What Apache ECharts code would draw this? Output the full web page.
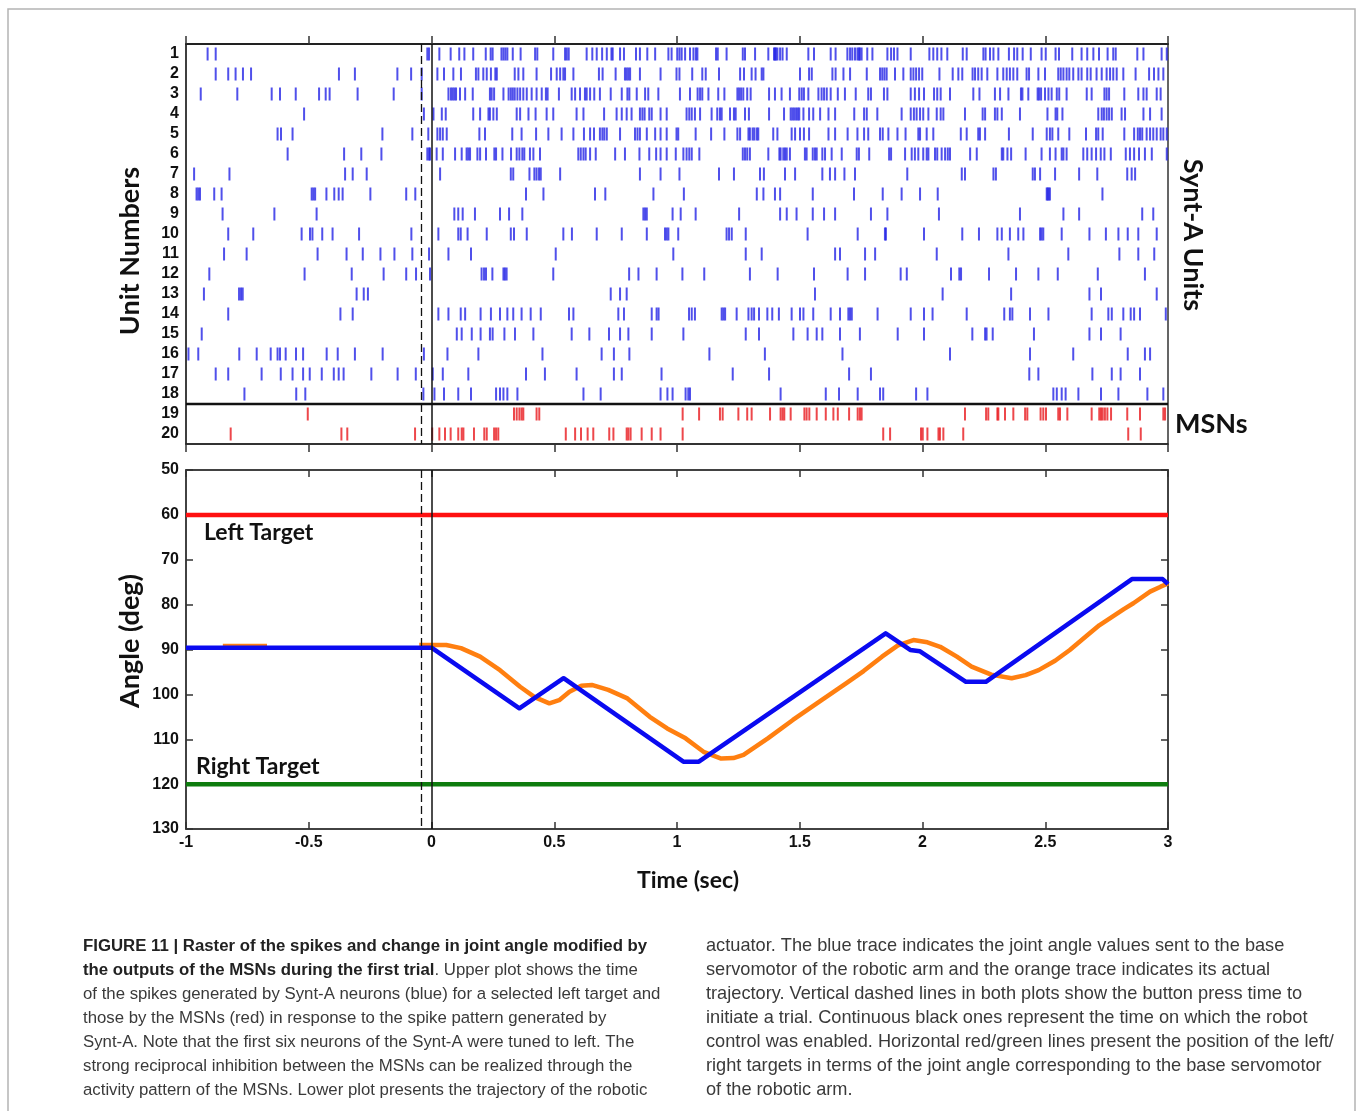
<!DOCTYPE html>
<html>
<head>
<meta charset="utf-8">
<script src="https://cdn.jsdelivr.net/npm/echarts@6/dist/echarts.min.js"></script>
<style>
html, body { margin: 0; padding: 0; background: #fff; }
#chart { width: 1358px; height: 1111px; }
</style>
</head>
<body>
<div id="chart"></div>
<script>
// spike times (sec) for each unit
const unit01 = [-0.912, -0.879, -0.017, -0.010, 0.032, 0.078, 0.113, 0.134, 0.170, 0.221, 0.241, 0.249, 0.285, 0.293, 0.301, 0.309, 0.331, 0.363, 0.422, 0.431, 0.496, 0.544, 0.551, 0.559, 0.632, 0.655, 0.673, 0.695, 0.714, 0.733, 0.738, 0.768, 0.784, 0.833, 0.849, 0.879, 0.911, 0.965, 0.978, 1.001, 1.010, 1.019, 1.033, 1.053, 1.067, 1.077, 1.083, 1.159, 1.166, 1.202, 1.268, 1.277, 1.318, 1.372, 1.395, 1.399, 1.403, 1.409, 1.420, 1.430, 1.447, 1.535, 1.558, 1.626, 1.646, 1.694, 1.705, 1.714, 1.725, 1.735, 1.741, 1.745, 1.752, 1.775, 1.796, 1.857, 1.872, 1.884, 1.898, 1.952, 2.028, 2.044, 2.060, 2.077, 2.101, 2.164, 2.180, 2.248, 2.257, 2.275, 2.289, 2.309, 2.352, 2.373, 2.386, 2.408, 2.441, 2.485, 2.502, 2.542, 2.556, 2.610, 2.648, 2.671, 2.696, 2.719, 2.754, 2.777, 2.787, 2.875, 2.900, 2.974, 2.995];
const unit02 = [-0.879, -0.828, -0.798, -0.768, -0.735, -0.377, -0.312, -0.139, -0.083, -0.040, 0.024, 0.051, 0.089, 0.120, 0.181, 0.191, 0.211, 0.225, 0.242, 0.260, 0.266, 0.339, 0.354, 0.374, 0.428, 0.487, 0.510, 0.524, 0.537, 0.544, 0.578, 0.682, 0.697, 0.750, 0.788, 0.795, 0.802, 0.809, 0.849, 0.933, 0.998, 1.010, 1.062, 1.103, 1.117, 1.171, 1.257, 1.273, 1.304, 1.320, 1.345, 1.352, 1.501, 1.538, 1.549, 1.633, 1.646, 1.678, 1.705, 1.773, 1.827, 1.836, 1.845, 1.854, 1.888, 1.922, 1.952, 1.963, 1.974, 1.986, 1.999, 2.069, 2.123, 2.146, 2.162, 2.204, 2.214, 2.227, 2.241, 2.264, 2.305, 2.329, 2.343, 2.356, 2.370, 2.386, 2.424, 2.434, 2.472, 2.499, 2.553, 2.563, 2.574, 2.587, 2.598, 2.614, 2.635, 2.648, 2.671, 2.685, 2.709, 2.730, 2.750, 2.764, 2.777, 2.791, 2.818, 2.868, 2.923, 2.943, 2.961, 2.981];
const unit03 = [-0.940, -0.791, -0.651, -0.617, -0.553, -0.458, -0.431, -0.415, -0.301, -0.154, -0.040, 0.069, 0.079, 0.086, 0.093, 0.100, 0.116, 0.137, 0.168, 0.238, 0.245, 0.255, 0.293, 0.314, 0.323, 0.331, 0.339, 0.350, 0.361, 0.374, 0.388, 0.408, 0.428, 0.449, 0.466, 0.473, 0.519, 0.571, 0.585, 0.605, 0.625, 0.632, 0.646, 0.663, 0.686, 0.730, 0.775, 0.798, 0.806, 0.836, 0.870, 0.883, 0.924, 1.012, 1.053, 1.084, 1.094, 1.103, 1.128, 1.168, 1.193, 1.246, 1.253, 1.261, 1.270, 1.286, 1.300, 1.375, 1.399, 1.426, 1.460, 1.498, 1.508, 1.517, 1.535, 1.576, 1.589, 1.599, 1.610, 1.626, 1.655, 1.684, 1.728, 1.779, 1.790, 1.843, 1.857, 1.952, 1.969, 1.986, 2.006, 2.047, 2.060, 2.074, 2.112, 2.207, 2.232, 2.295, 2.316, 2.350, 2.401, 2.407, 2.431, 2.469, 2.475, 2.483, 2.499, 2.513, 2.526, 2.547, 2.557, 2.587, 2.669, 2.689, 2.741, 2.750, 2.760, 2.822, 2.879, 2.900, 2.913, 2.954, 2.970];
const unit04 = [-0.519, -0.031, 0.008, 0.042, 0.058, 0.170, 0.198, 0.232, 0.238, 0.252, 0.266, 0.347, 0.361, 0.395, 0.424, 0.469, 0.496, 0.591, 0.619, 0.703, 0.754, 0.775, 0.795, 0.815, 0.849, 0.859, 0.868, 0.887, 0.897, 0.933, 0.958, 1.039, 1.050, 1.060, 1.073, 1.094, 1.141, 1.164, 1.175, 1.182, 1.216, 1.232, 1.239, 1.277, 1.293, 1.375, 1.436, 1.463, 1.470, 1.477, 1.485, 1.492, 1.498, 1.515, 1.538, 1.555, 1.583, 1.617, 1.644, 1.722, 1.762, 1.773, 1.816, 1.915, 1.952, 1.965, 1.976, 1.990, 2.003, 2.024, 2.058, 2.074, 2.085, 2.173, 2.245, 2.255, 2.295, 2.305, 2.323, 2.397, 2.509, 2.542, 2.549, 2.570, 2.716, 2.730, 2.739, 2.750, 2.760, 2.771, 2.811, 2.825, 2.900, 2.927, 2.974];
const unit05 = [-0.627, -0.613, -0.566, -0.200, -0.078, -0.013, 0.024, 0.035, 0.046, 0.062, 0.195, 0.218, 0.329, 0.367, 0.426, 0.476, 0.530, 0.578, 0.621, 0.646, 0.662, 0.686, 0.696, 0.704, 0.714, 0.768, 0.829, 0.839, 0.849, 0.877, 0.911, 0.933, 0.958, 0.998, 1.005, 1.076, 1.139, 1.193, 1.246, 1.257, 1.291, 1.297, 1.308, 1.315, 1.325, 1.331, 1.392, 1.409, 1.467, 1.481, 1.501, 1.517, 1.538, 1.617, 1.644, 1.695, 1.735, 1.762, 1.779, 1.827, 1.838, 1.861, 1.898, 1.931, 1.983, 1.990, 2.017, 2.044, 2.156, 2.180, 2.227, 2.234, 2.255, 2.352, 2.449, 2.506, 2.519, 2.529, 2.553, 2.598, 2.666, 2.707, 2.716, 2.734, 2.822, 2.862, 2.877, 2.886, 2.895, 2.913, 2.927, 2.940, 2.954, 2.970, 2.981, 2.995];
const unit06 = [-0.586, -0.356, -0.286, -0.204, -0.017, -0.010, -0.006, 0.021, 0.046, 0.096, 0.123, 0.143, 0.150, 0.157, 0.187, 0.198, 0.222, 0.256, 0.263, 0.289, 0.324, 0.347, 0.358, 0.370, 0.378, 0.401, 0.415, 0.442, 0.598, 0.608, 0.619, 0.628, 0.646, 0.669, 0.748, 0.788, 0.847, 0.887, 0.915, 0.933, 0.958, 0.995, 1.026, 1.039, 1.050, 1.060, 1.091, 1.268, 1.277, 1.286, 1.297, 1.372, 1.417, 1.422, 1.433, 1.440, 1.447, 1.460, 1.521, 1.528, 1.553, 1.562, 1.569, 1.592, 1.603, 1.630, 1.671, 1.732, 1.741, 1.783, 1.864, 1.872, 1.929, 1.956, 1.969, 1.983, 2.003, 2.017, 2.024, 2.051, 2.060, 2.078, 2.092, 2.103, 2.112, 2.194, 2.221, 2.323, 2.329, 2.346, 2.361, 2.420, 2.485, 2.519, 2.542, 2.567, 2.574, 2.587, 2.655, 2.671, 2.689, 2.707, 2.726, 2.741, 2.767, 2.828, 2.845, 2.862, 2.882, 2.906, 2.934, 2.995];
const unit07 = [-0.967, -0.823, -0.352, -0.321, -0.264, 0.035, 0.323, 0.333, 0.399, 0.419, 0.428, 0.438, 0.445, 0.524, 0.849, 0.933, 1.010, 1.171, 1.232, 1.338, 1.354, 1.440, 1.481, 1.592, 1.623, 1.644, 1.682, 1.725, 1.938, 2.160, 2.173, 2.289, 2.299, 2.449, 2.458, 2.479, 2.540, 2.638, 2.712, 2.834, 2.852, 2.866];
const unit08 = [-0.957, -0.950, -0.943, -0.885, -0.855, -0.488, -0.481, -0.474, -0.428, -0.396, -0.378, -0.362, -0.249, -0.103, -0.066, 0.385, 0.456, 0.666, 0.708, 0.904, 1.028, 1.325, 1.352, 1.399, 1.420, 1.553, 1.721, 1.838, 1.915, 1.990, 2.062, 2.506, 2.510, 2.514, 2.519, 2.733];
const unit09 = [-0.851, -0.640, -0.468, 0.093, 0.109, 0.127, 0.177, 0.279, 0.316, 0.370, 0.863, 0.870, 0.877, 0.982, 1.015, 1.076, 1.253, 1.420, 1.447, 1.487, 1.553, 1.599, 1.644, 1.790, 1.857, 2.067, 2.397, 2.574, 2.638, 2.895, 2.940];
const unit10 = [-0.828, -0.726, -0.529, -0.495, -0.485, -0.445, -0.403, -0.295, -0.082, 0.028, 0.109, 0.119, 0.147, 0.225, 0.323, 0.336, 0.388, 0.537, 0.572, 0.673, 0.775, 0.877, 0.951, 0.958, 0.965, 1.005, 1.202, 1.212, 1.223, 1.280, 1.532, 1.736, 1.847, 1.851, 2.006, 2.162, 2.230, 2.305, 2.323, 2.356, 2.390, 2.411, 2.479, 2.485, 2.492, 2.567, 2.680, 2.747, 2.798, 2.836, 2.879, 2.954];
const unit11 = [-0.845, -0.753, -0.464, -0.346, -0.280, -0.208, -0.151, -0.078, -0.010, 0.069, 0.161, 0.506, 0.985, 1.280, 1.345, 1.644, 1.664, 1.766, 1.807, 2.058, 2.350, 2.594, 2.802, 2.879, 2.944];
const unit12 = [-0.905, -0.517, -0.325, -0.195, -0.103, -0.063, -0.006, 0.204, 0.214, 0.222, 0.248, 0.293, 0.299, 0.306, 0.496, 0.805, 0.843, 0.917, 1.022, 1.111, 1.297, 1.410, 1.558, 1.695, 1.766, 1.911, 1.936, 2.116, 2.150, 2.157, 2.271, 2.381, 2.472, 2.551, 2.714, 2.906];
const unit13 = [-0.927, -0.784, -0.776, -0.769, -0.305, -0.276, -0.259, 0.730, 0.768, 0.795, 1.562, 2.082, 2.361, 2.680, 2.727, 2.954];
const unit14 = [-0.828, -0.371, -0.321, 0.028, 0.069, 0.119, 0.137, 0.200, 0.242, 0.279, 0.309, 0.333, 0.367, 0.404, 0.445, 0.560, 0.578, 0.761, 0.784, 0.897, 0.917, 0.925, 1.049, 1.060, 1.073, 1.182, 1.189, 1.196, 1.243, 1.291, 1.304, 1.314, 1.334, 1.368, 1.388, 1.415, 1.467, 1.501, 1.515, 1.555, 1.626, 1.664, 1.698, 1.705, 1.712, 1.817, 1.952, 2.006, 2.041, 2.180, 2.333, 2.356, 2.366, 2.438, 2.513, 2.689, 2.757, 2.771, 2.818, 2.848, 2.862, 2.886, 2.991];
const unit15 = [-0.936, 0.103, 0.123, 0.164, 0.200, 0.238, 0.249, 0.297, 0.340, 0.415, 0.571, 0.643, 0.723, 0.768, 0.802, 0.897, 1.026, 1.280, 1.334, 1.474, 1.532, 1.569, 1.592, 1.664, 1.745, 1.899, 2.006, 2.203, 2.255, 2.261, 2.286, 2.454, 2.680, 2.727, 2.807];
const unit16 = [-0.990, -0.950, -0.783, -0.712, -0.655, -0.627, -0.617, -0.594, -0.552, -0.523, -0.427, -0.382, -0.312, -0.199, -0.031, 0.065, 0.191, 0.452, 0.693, 0.743, 0.806, 1.132, 1.358, 1.674, 2.112, 2.438, 2.614, 2.836, 2.906, 2.927];
const unit17 = [-0.879, -0.828, -0.692, -0.614, -0.566, -0.523, -0.496, -0.447, -0.398, -0.378, -0.358, -0.245, -0.138, -0.064, 0.005, 0.046, 0.150, 0.385, 0.462, 0.591, 0.743, 0.775, 0.937, 1.227, 1.375, 1.701, 1.790, 2.435, 2.472, 2.692, 2.771, 2.807, 2.886];
const unit18 = [-0.762, -0.551, -0.514, -0.033, 0.012, 0.051, 0.109, 0.161, 0.263, 0.279, 0.293, 0.309, 0.350, 0.619, 0.689, 0.933, 0.961, 0.982, 1.035, 1.046, 1.053, 1.422, 1.606, 1.660, 1.736, 1.827, 1.840, 1.974, 2.020, 2.533, 2.547, 2.567, 2.583, 2.635, 2.727, 2.798, 2.916, 2.981];
const msn19 = [-0.504, 0.336, 0.347, 0.358, 0.367, 0.374, 0.428, 0.439, 1.023, 1.090, 1.175, 1.186, 1.250, 1.286, 1.304, 1.379, 1.422, 1.430, 1.437, 1.463, 1.519, 1.528, 1.539, 1.569, 1.606, 1.637, 1.655, 1.701, 1.736, 1.745, 1.752, 2.173, 2.259, 2.268, 2.305, 2.309, 2.336, 2.370, 2.418, 2.427, 2.481, 2.492, 2.503, 2.553, 2.560, 2.590, 2.689, 2.720, 2.727, 2.734, 2.743, 2.753, 2.768, 2.834, 2.886, 2.981, 2.988];
const msn20 = [-0.818, -0.367, -0.343, -0.067, 0.003, 0.032, 0.055, 0.078, 0.109, 0.123, 0.130, 0.173, 0.215, 0.225, 0.255, 0.263, 0.272, 0.547, 0.585, 0.609, 0.636, 0.659, 0.724, 0.741, 0.795, 0.802, 0.811, 0.856, 0.897, 0.933, 1.023, 1.840, 1.868, 1.994, 2.001, 2.020, 2.065, 2.071, 2.085, 2.166, 2.838, 2.889];

const unitLabels = ['1','2','3','4','5','6','7','8','9','10','11','12','13','14','15','16','17','18','19','20'];

// joint angle traces (orange is hidden under the blue trace where null)
const blueTime  = [-1, 0, 0.358, 0.538, 1.026, 1.089, 1.850, 1.950, 1.990, 2.177, 2.258, 2.853, 2.978, 3.0];
const blueAngle = [89.6, 89.6, 103.1, 96.4, 115.0, 115.0, 86.4, 90.1, 90.4, 97.2, 97.2, 74.3, 74.3, 75.4];
const orangeTime  = [-0.85, -0.67, -0.66, -0.05, 0.06, 0.12, 0.198, 0.279, 0.361, 0.42, 0.48, 0.52, 0.562, 0.61, 0.653, 0.72, 0.798, 0.889, 0.96, 1.035, 1.108, 1.18, 1.23, 1.271, 1.37, 1.472, 1.58, 1.69, 1.76, 1.835, 1.90, 1.963, 2.02, 2.072, 2.14, 2.20, 2.28, 2.363, 2.42, 2.473, 2.54, 2.60, 2.67, 2.72, 2.82, 2.859, 2.927, 2.97, 3.0];
const orangeAngle = [89.2, 89.2, null, 89.0, 89.0, 89.7, 91.6, 94.6, 98.3, 100.6, 102.0, 101.3, 99.4, 98.1, 97.9, 99.0, 100.9, 105.0, 107.6, 109.8, 112.8, 114.3, 114.2, 113.5, 109.8, 105.7, 101.6, 97.5, 94.8, 91.6, 89.1, 87.9, 88.4, 89.4, 91.6, 93.8, 95.6, 96.4, 95.7, 94.6, 92.5, 90.1, 86.9, 84.6, 81.0, 79.7, 77.1, 76.0, 75.3];
const leftTarget = 60;
const rightTarget = 120;
const buttonPress = -0.043;
const controlOn = 0;

const captionLeft = [
  '{b|FIGURE 11 | Raster of the spikes and change in joint angle modified by}',
  '{b|the outputs of the MSNs during the first trial}. Upper plot shows the time',
  'of the spikes generated by Synt-A neurons (blue) for a selected left target and',
  'those by the MSNs (red) in response to the spike pattern generated by',
  'Synt-A. Note that the first six neurons of the Synt-A were tuned to left. The',
  'strong reciprocal inhibition between the MSNs can be realized through the',
  'activity pattern of the MSNs. Lower plot presents the trajectory of the robotic'
];
const captionRight = [
  'actuator. The blue trace indicates the joint angle values sent to the base',
  'servomotor of the robotic arm and the orange trace indicates its actual',
  'trajectory. Vertical dashed lines in both plots show the button press time to',
  'initiate a trial. Continuous black ones represent the time on which the robot',
  'control was enabled. Horizontal red/green lines present the position of the left/',
  'right targets in terms of the joint angle corresponding to the base servomotor',
  'of the robotic arm.'
];

const synA = [unit01, unit02, unit03, unit04, unit05, unit06, unit07, unit08, unit09, unit10,
              unit11, unit12, unit13, unit14, unit15, unit16, unit17, unit18];
const msns = [msn19, msn20];

const blueSpikes = [];
synA.forEach(function (arr, i) { arr.forEach(function (t) { blueSpikes.push([t, i]); }); });
const redSpikes = [];
msns.forEach(function (arr, i) { arr.forEach(function (t) { redSpikes.push([t, 18 + i]); }); });

const bluePts = blueTime.map(function (t, i) { return [t, blueAngle[i]]; });
const orangePts = orangeTime.map(function (t, i) {
  return [t, orangeAngle[i] === null ? '-' : orangeAngle[i]];
});

const numFont = '"Liberation Sans", Arial, sans-serif';
const titleFont = 'Lato, "Open Sans", sans-serif';
const capFont = '"Liberation Sans", Arial, sans-serif';

const chart = echarts.init(document.getElementById('chart'));

const graphics = [
  { type: 'rect', shape: { x: 8, y: 9, width: 1347, height: 1130 },
    style: { fill: 'none', stroke: '#b4b4b4', lineWidth: 1.5 }, silent: true },
  { type: 'text', x: 130, y: 251, rotation: Math.PI / 2,
    style: { text: 'Unit Numbers', fontFamily: titleFont, fontWeight: 'bold', fontSize: 27, fill: '#111', align: 'center', verticalAlign: 'middle' } },
  { type: 'text', x: 130, y: 641, rotation: Math.PI / 2,
    style: { text: 'Angle (deg)', fontFamily: titleFont, fontWeight: 'bold', fontSize: 27, fill: '#111', align: 'center', verticalAlign: 'middle' } },
  { type: 'text', x: 1193, y: 235, rotation: -Math.PI / 2,
    style: { text: 'Synt-A Units', fontFamily: titleFont, fontWeight: 'bold', fontSize: 27, fill: '#111', align: 'center', verticalAlign: 'middle' } },
  { type: 'text', x: 1175, y: 424,
    style: { text: 'MSNs', fontFamily: titleFont, fontWeight: 'bold', fontSize: 27, fill: '#111', align: 'left', verticalAlign: 'middle' } },
  { type: 'text', x: 688, y: 881,
    style: { text: 'Time (sec)', fontFamily: titleFont, fontWeight: 'bold', fontSize: 23, fill: '#111', align: 'center', verticalAlign: 'middle' } },
  { type: 'text', x: 204, y: 533,
    style: { text: 'Left Target', fontFamily: titleFont, fontWeight: 'bold', fontSize: 23, fill: '#111', align: 'left', verticalAlign: 'middle' } },
  { type: 'text', x: 196, y: 767,
    style: { text: 'Right Target', fontFamily: titleFont, fontWeight: 'bold', fontSize: 23, fill: '#111', align: 'left', verticalAlign: 'middle' } }
];

const capRich = { b: { fontFamily: capFont, fontWeight: 'bold', fontSize: 16.8, fill: '#222' } };
captionLeft.forEach(function (line, i) {
  graphics.push({ type: 'text', x: 83, y: 946 + i * 24,
    style: { text: line, fontFamily: capFont, fontSize: 16.8, fill: '#3a3a3a', align: 'left', verticalAlign: 'middle', rich: capRich } });
});
captionRight.forEach(function (line, i) {
  graphics.push({ type: 'text', x: 706, y: 946 + i * 24,
    style: { text: line, fontFamily: capFont, fontSize: 18.2, fill: '#3a3a3a', align: 'left', verticalAlign: 'middle' } });
});

const tickStyle = { color: '#333', width: 1.5 };

chart.setOption({
  animation: false,
  backgroundColor: '#fff',
  grid: [
    { left: 186, top: 44, width: 982, height: 400, show: true, borderColor: '#333', borderWidth: 1.5 },
    { left: 186, top: 470, width: 982, height: 359, show: true, borderColor: '#444', borderWidth: 1.5 }
  ],
  xAxis: [
    { gridIndex: 0, type: 'value', position: 'top', min: -1, max: 3, interval: 0.5,
      axisLine: { show: true, onZero: false, lineStyle: { color: '#222', width: 2 } },
      axisTick: { show: true, inside: false, length: 8, lineStyle: tickStyle },
      axisLabel: { show: false }, splitLine: { show: false } },
    { gridIndex: 0, type: 'value', position: 'bottom', min: -1, max: 3, interval: 0.5,
      axisLine: { show: true, onZero: false, lineStyle: { color: '#222', width: 1.5 } },
      axisTick: { show: true, inside: false, length: 8, lineStyle: tickStyle },
      axisLabel: { show: false }, splitLine: { show: false } },
    { gridIndex: 1, type: 'value', position: 'bottom', min: -1, max: 3, interval: 0.5,
      axisLine: { show: true, onZero: false, lineStyle: { color: '#333', width: 1.5 } },
      axisTick: { show: true, inside: true, length: 7, lineStyle: tickStyle },
      axisLabel: { show: true, margin: 6, color: '#111', fontFamily: numFont, fontWeight: 'bold', fontSize: 16 },
      splitLine: { show: false } },
    { gridIndex: 1, type: 'value', position: 'top', min: -1, max: 3, interval: 0.5,
      axisLine: { show: true, onZero: false, lineStyle: { color: '#333', width: 1.5 } },
      axisTick: { show: true, inside: true, length: 7, lineStyle: tickStyle },
      axisLabel: { show: false }, splitLine: { show: false } }
  ],
  yAxis: [
    { gridIndex: 0, type: 'category', data: unitLabels, inverse: true, position: 'left', boundaryGap: true,
      axisLine: { show: true, onZero: false, lineStyle: { color: '#333', width: 1.5 } },
      axisTick: { show: false },
      axisLabel: { show: true, margin: 7, color: '#111', fontFamily: numFont, fontWeight: 'bold', fontSize: 16, interval: 0 },
      splitLine: { show: false } },
    { gridIndex: 0, type: 'value', min: 0, max: 20, inverse: true, position: 'right', show: false,
      axisLine: { onZero: false } },
    { gridIndex: 1, type: 'value', min: 50, max: 130, interval: 10, inverse: true, position: 'left',
      axisLine: { show: true, onZero: false, lineStyle: { color: '#333', width: 1.5 } },
      axisTick: { show: true, inside: true, length: 7, lineStyle: tickStyle },
      axisLabel: { show: true, margin: 7, color: '#111', fontFamily: numFont, fontWeight: 'bold', fontSize: 16 },
      splitLine: { show: false } },
    { gridIndex: 1, type: 'value', min: 50, max: 130, interval: 10, inverse: true, position: 'right',
      axisLine: { show: true, onZero: false, lineStyle: { color: '#333', width: 1.5 } },
      axisTick: { show: true, inside: true, length: 7, lineStyle: tickStyle },
      axisLabel: { show: false }, splitLine: { show: false } }
  ],
  series: [
    { // divider between Synt-A units and MSNs + trial markers
      type: 'line', xAxisIndex: 0, yAxisIndex: 1, silent: true, symbol: 'none', z: 1,
      data: [[-1, 18], [3, 18]], lineStyle: { color: '#111', width: 2.5 },
      markLine: { silent: true, symbol: 'none', label: { show: false },
        data: [
          { xAxis: buttonPress, lineStyle: { color: '#111', width: 1.3, type: [8, 4] } },
          { xAxis: controlOn, lineStyle: { color: '#111', width: 1.5, type: 'solid' } }
        ] } },
    { type: 'scatter', xAxisIndex: 0, yAxisIndex: 0, symbol: 'rect', symbolSize: [2, 13],
      itemStyle: { color: '#2424e6' }, data: blueSpikes, silent: true, z: 3 },
    { type: 'scatter', xAxisIndex: 0, yAxisIndex: 0, symbol: 'rect', symbolSize: [2, 13],
      itemStyle: { color: '#e8191e' }, data: redSpikes, silent: true, z: 3 },
    { // trial markers on the angle plot
      type: 'line', xAxisIndex: 2, yAxisIndex: 2, silent: true, symbol: 'none', z: 1, data: [],
      markLine: { silent: true, symbol: 'none', label: { show: false },
        data: [
          { xAxis: buttonPress, lineStyle: { color: '#111', width: 1.3, type: [8, 4] } },
          { xAxis: controlOn, lineStyle: { color: '#111', width: 1.5, type: 'solid' } }
        ] } },
    { type: 'line', xAxisIndex: 2, yAxisIndex: 2, symbol: 'none', silent: true, z: 2,
      data: [[-1, leftTarget], [3, leftTarget]], lineStyle: { color: '#ff1010', width: 4.5 } },
    { type: 'line', xAxisIndex: 2, yAxisIndex: 2, symbol: 'none', silent: true, z: 2,
      data: [[-1, rightTarget], [3, rightTarget]], lineStyle: { color: '#0e7c0e', width: 4.5 } },
    { type: 'line', xAxisIndex: 2, yAxisIndex: 2, symbol: 'none', silent: true, z: 3, connectNulls: false,
      data: orangePts, lineStyle: { color: '#ff7f10', width: 4.5, join: 'round' } },
    { type: 'line', xAxisIndex: 2, yAxisIndex: 2, symbol: 'none', silent: true, z: 4,
      data: bluePts, lineStyle: { color: '#0a0af0', width: 4.5, join: 'round' } }
  ],
  graphic: graphics
});
</script>
</body>
</html>
